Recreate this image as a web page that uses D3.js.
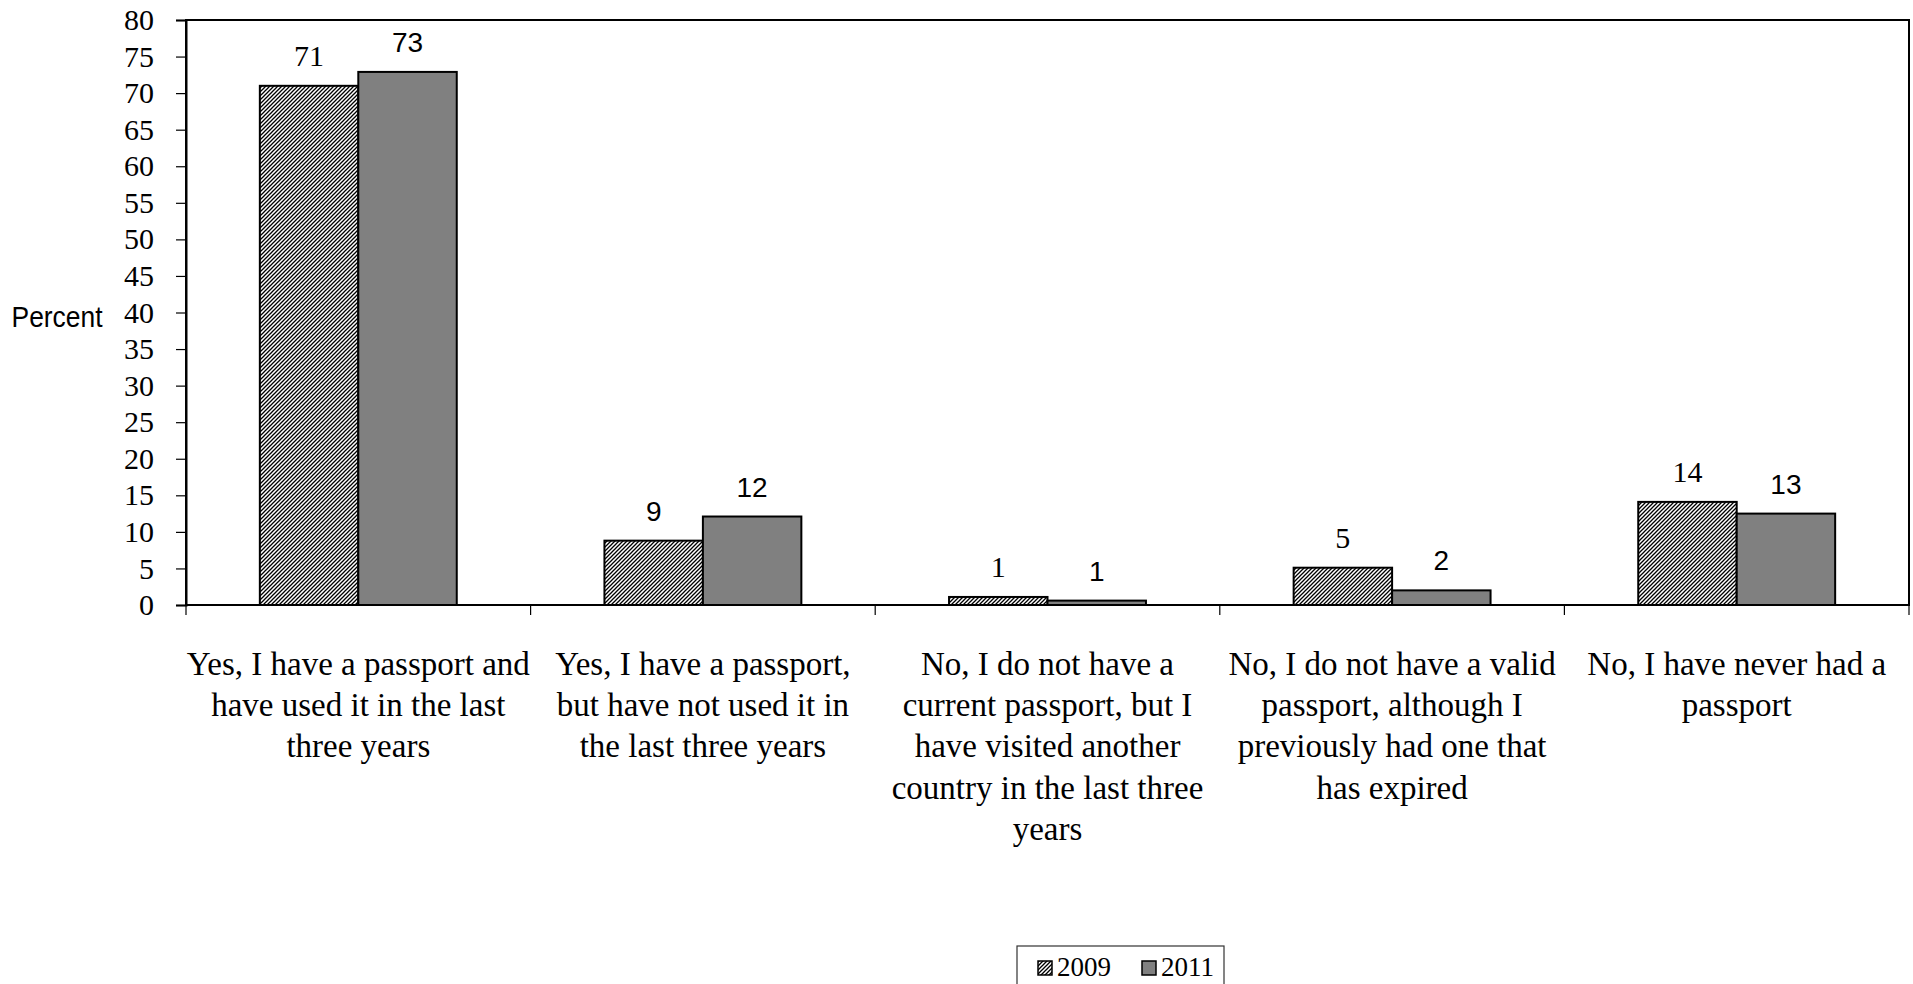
<!DOCTYPE html>
<html>
<head>
<meta charset="utf-8">
<script src="https://cdn.jsdelivr.net/npm/d3@7"></script>
<style>
  html, body { margin: 0; padding: 0; background: #fff; }
  svg { display: block; }
  .serif { font-family: "Liberation Serif", "Times New Roman", serif; }
  .sans { font-family: "Liberation Sans", Arial, sans-serif; }
</style>
</head>
<body>
<svg id="chart" width="1913" height="984"></svg>
<script>
// ---- data ----
const categories = [
  ["Yes, I have a passport and", "have used it in the last", "three years"],
  ["Yes, I have a passport,", "but have not used it in", "the last three years"],
  ["No, I do not have a", "current passport, but I", "have visited another", "country in the last three", "years"],
  ["No, I do not have a valid", "passport, although I", "previously had one that", "has expired"],
  ["No, I have never had a", "passport"]
];
const seriesNames = ["2009", "2011"];
const values2009 = [71.0, 8.8, 1.1, 5.1, 14.1];
const values2011 = [72.9, 12.1, 0.6, 2.0, 12.5];
const labels2009 = ["71", "9", "1", "5", "14"];
const labels2011 = ["73", "12", "1", "2", "13"];
const yTicks = [0, 5, 10, 15, 20, 25, 30, 35, 40, 45, 50, 55, 60, 65, 70, 75, 80];
const yAxisTitle = "Percent";

// ---- styles ----
const labelClass2009 = ["serif", "sans", "serif", "serif", "serif"];
const labelClass2011 = ["sans", "sans", "sans", "sans", "sans"];

const svg = d3.select("#chart");
const plotLeft = 186, plotRight = 1909, plotTop = 20, plotBottom = 605;

const defs = svg.append("defs");
const pat = defs.append("pattern")
  .attr("id", "hatch").attr("patternUnits", "userSpaceOnUse")
  .attr("width", 4).attr("height", 4);
pat.append("rect").attr("width", 4).attr("height", 4).attr("fill", "#fff");
pat.append("path").attr("d", "M0,4 L4,0 M-1,1 L1,-1 M3,5 L5,3")
  .attr("stroke", "#000").attr("stroke-width", 1.3);

const catIdx = categories.map((d, i) => i);
const x = d3.scaleBand().domain(catIdx).range([plotLeft, plotRight]).paddingInner(0).paddingOuter(0);
const xs = d3.scaleBand().domain(seriesNames).range([0, x.bandwidth()]).paddingInner(0).paddingOuter(0.75);
const y = d3.scaleLinear().domain([0, 80]).range([plotBottom, plotTop]);

// plot border
svg.append("rect").attr("x", plotLeft).attr("y", plotTop)
  .attr("width", plotRight - plotLeft).attr("height", plotBottom - plotTop)
  .attr("fill", "none").attr("stroke", "#000").attr("stroke-width", 2);

// y axis
const yAxis = d3.axisLeft(y).tickValues(yTicks).tickSize(10).tickPadding(22).tickFormat(d3.format("d"));
const gy = svg.append("g").attr("transform", `translate(${plotLeft},0)`).call(yAxis);
gy.attr("font-family", null).attr("font-size", 30).attr("class", "serif");
gy.select(".domain").attr("stroke-width", 2);
gy.selectAll(".tick line").attr("stroke-width", 1.2);
gy.selectAll(".tick text").attr("class", "serif").attr("font-size", 30).attr("fill", "#000");

// bottom category separator ticks
const bounds = catIdx.map(i => x(i)).concat([x(catIdx[catIdx.length - 1]) + x.bandwidth()]);
svg.append("g").selectAll("line").data(bounds).join("line")
  .attr("x1", d => d).attr("x2", d => d)
  .attr("y1", plotBottom).attr("y2", plotBottom + 10)
  .attr("stroke", "#000").attr("stroke-width", 1.2);

// bars
const series = [
  { name: "2009", values: values2009, labels: labels2009, cls: labelClass2009, fill: "url(#hatch)" },
  { name: "2011", values: values2011, labels: labels2011, cls: labelClass2011, fill: "#808080" }
];
series.forEach(s => {
  const g = svg.append("g");
  g.selectAll("rect").data(s.values).join("rect")
    .attr("x", (d, i) => x(i) + xs(s.name))
    .attr("y", d => y(d))
    .attr("width", xs.bandwidth())
    .attr("height", d => y(0) - y(d))
    .attr("fill", s.fill)
    .attr("stroke", "#000").attr("stroke-width", 2);
  g.selectAll("text").data(s.values).join("text")
    .attr("x", (d, i) => x(i) + xs(s.name) + xs.bandwidth() / 2)
    .attr("y", d => y(d) - 20)
    .attr("text-anchor", "middle")
    .attr("class", (d, i) => s.cls[i])
    .attr("font-size", (d, i) => s.cls[i] === "serif" ? 30 : 28)
    .attr("fill", "#000")
    .text((d, i) => s.labels[i]);
});

// redraw baseline on top
svg.append("line").attr("x1", plotLeft).attr("x2", plotRight).attr("y1", plotBottom).attr("y2", plotBottom)
  .attr("stroke", "#000").attr("stroke-width", 2);

// category labels
const cl = svg.append("g").selectAll("text").data(categories).join("text")
  .attr("transform", (d, i) => `translate(${x(i) + x.bandwidth() / 2},675)`)
  .attr("text-anchor", "middle")
  .attr("class", "serif")
  .attr("font-size", 33)
  .attr("fill", "#000");
cl.each(function(lines) {
  d3.select(this).selectAll("tspan").data(lines).join("tspan")
    .attr("x", 0).attr("dy", (d, j) => j === 0 ? 0 : 41.2).text(d => d);
});

// y axis title
svg.append("text")
  .attr("transform", "translate(57,327) scale(0.88,1)")
  .attr("text-anchor", "middle")
  .attr("class", "sans").attr("font-size", 30).attr("fill", "#000")
  .text(yAxisTitle);

// legend
const lg = svg.append("g");
lg.append("rect").attr("x", 1017).attr("y", 946).attr("width", 207).attr("height", 40)
  .attr("fill", "#fff").attr("stroke", "#333").attr("stroke-width", 1.2);
const legendX = [1038, 1142];
series.forEach((s, i) => {
  lg.append("rect").attr("x", legendX[i]).attr("y", 961).attr("width", 14).attr("height", 14)
    .attr("fill", s.fill).attr("stroke", "#000").attr("stroke-width", 1.5);
  lg.append("text")
    .attr("x", legendX[i] + 19).attr("y", 976)
    .attr("class", "serif").attr("font-size", 27).attr("fill", "#000")
    .text(s.name);
});
</script>
</body>
</html>
